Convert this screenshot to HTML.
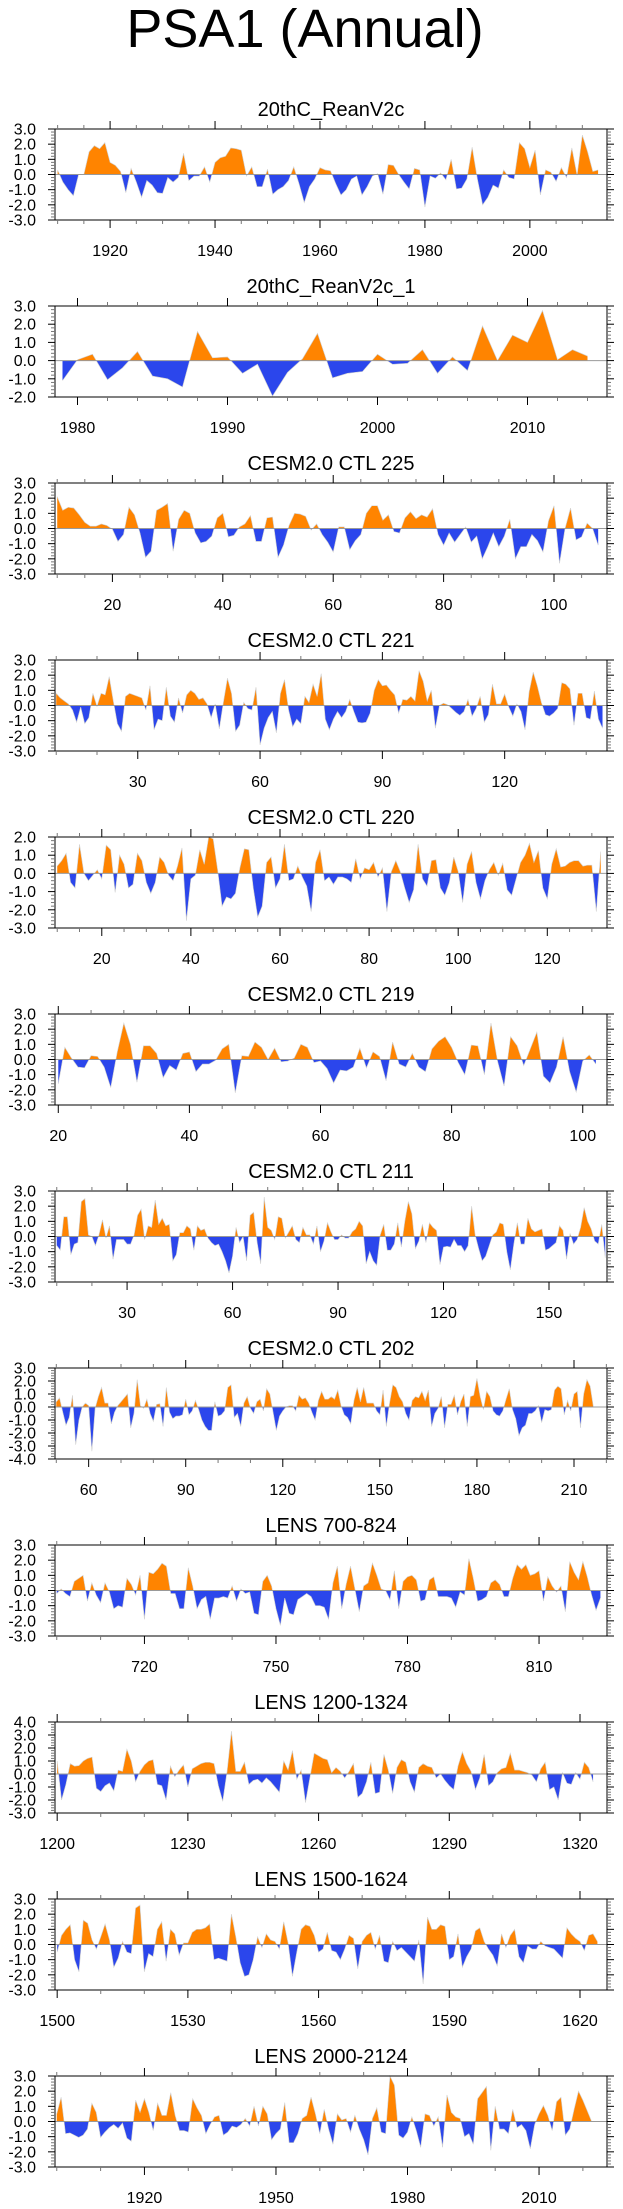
<!DOCTYPE html>
<html><head><meta charset="utf-8"><title>PSA1 (Annual)</title>
<style>
html,body{margin:0;padding:0;background:#fff;}
svg{display:block;font-family:"Liberation Sans",Arial,sans-serif;}
</style></head>
<body>
<svg id="chart" xmlns="http://www.w3.org/2000/svg" width="623" height="2209" viewBox="0 0 623 2209">
<rect width="623" height="2209" fill="#fff"/>
<text x="305" y="47" font-size="54" text-anchor="middle" fill="#000">PSA1 (Annual)</text>
</svg>
<script>
const panelTitles = ["20thC_ReanV2c","20thC_ReanV2c_1","CESM2.0 CTL 225","CESM2.0 CTL 221","CESM2.0 CTL 220","CESM2.0 CTL 219","CESM2.0 CTL 211","CESM2.0 CTL 202","LENS 700-824","LENS 1200-1324","LENS 1500-1624","LENS 2000-2124"];
const panelXMin = [1909.5,1978.5,9.6,9.7,9.5,19.5,9.5,49.6,699.6,1199.5,1499.5,1899.6];
const panelXMax = [2014.7,2015.3,109.6,145.1,133.4,103.7,166.5,220.2,825.5,1326.2,1626.2,2025.5];
const panelYMin = [-3,-2,-3,-3,-3,-3,-3,-4,-3,-3,-3,-3];
const panelYMax = [3,3,3,3,2,3,3,3,3,4,3,3];
const panelMajorStep = [20,10,20,30,20,20,30,30,30,30,30,30];
const panelMinorStep = [5,2,5,10,5,5,10,10,10,10,10,10];
const panelStart = [1910,1979,10,10,10,20,10,50,700,1200,1500,1900];

const p1Values = [0.3,-0.5,-1.0,-1.4,0.0,0.0,1.5,1.9,1.7,2.1,0.8,0.6,0.2,-1.2,0.4,-0.5,-1.5,-0.4,-0.7,-1.2,-1.25,-0.2,-0.5,-0.2,1.4,-0.4,-0.1,-0.1,0.5,-0.5,0.8,1.1,1.2,1.75,1.7,1.6,-0.1,0.5,-0.8,-0.8,0.35,-1.3,-1.0,-0.8,-0.4,0.5,-0.6,-1.85,-0.8,-0.3,0.45,0.3,0.25,-0.6,-1.35,-1.0,-0.3,-0.1,-1.35,-0.8,-0.1,0.05,-1.3,0.65,0.6,0.0,-0.5,-0.95,0.4,0.3,-2.15,-0.1,-0.25,0.1,-0.35,1.0,-0.95,-0.9,-0.3,1.8,-0.3,-2.0,-1.5,-0.7,-0.9,0.3,-0.2,-0.3,2.1,1.7,0.45,1.6,-1.35,0.3,0.15,-0.45,0.45,-0.2,1.75,-0.05,2.6,1.5,0.2,0.3];
const p2Values = [-1.1,0.05,0.35,-1.05,-0.4,0.5,-0.85,-1.0,-1.45,1.6,0.15,0.2,-0.7,-0.2,-1.95,-0.65,0.1,1.5,-0.95,-0.7,-0.6,0.35,-0.2,-0.15,0.6,-0.7,0.2,-0.55,1.9,0.0,1.4,1.0,2.75,0.05,0.6,0.25];
const p3Values = [2.1,1.2,1.4,1.35,0.9,0.4,0.15,0.15,0.3,0.2,-0.05,-0.85,-0.4,1.4,0.9,-0.3,-1.9,-1.5,1.2,1.4,1.65,-1.5,0.6,1.2,1.0,-0.3,-0.95,-0.85,-0.5,0.7,1.0,-0.55,-0.45,0.1,0.3,0.85,-0.85,-0.85,0.7,0.75,-1.9,-1.1,0.2,1.0,0.95,0.8,-0.1,0.3,-0.4,-0.9,-1.55,0.1,0.1,-1.4,-0.8,-0.4,1.0,1.5,1.5,0.55,0.9,-0.2,-0.3,0.7,1.1,0.65,0.9,0.75,1.3,-0.4,-1.1,-0.3,-0.9,-0.4,0.1,-0.9,-0.5,-2.0,-1.2,-0.3,-1.2,-0.5,0.6,-2.0,-1.2,-1.2,-0.4,-0.8,-1.55,0.5,1.5,-2.3,0.0,1.35,-0.75,-0.55,0.35,0.0,-1.1];
const p4Values = [0.8,0.5,0.3,0.1,-0.3,-1.1,-0.1,-1.2,-0.8,0.8,-0.05,0.8,0.7,1.9,0.3,-1.2,-1.7,0.6,0.8,0.7,0.6,0.5,-0.3,1.3,-1.6,-0.9,-1.0,1.2,-0.7,-1.1,0.5,-0.5,0.7,1.0,0.8,0.4,0.5,0.1,-0.8,0.1,-1.55,0.2,1.8,0.8,-1.7,-1.3,0.2,-0.2,-0.3,1.2,-2.6,-1.5,-0.8,-0.4,-1.8,0.8,1.7,-0.3,-1.4,-0.9,-1.2,0.6,0.2,1.4,0.6,2.1,-0.9,-1.6,-0.9,-0.4,-0.8,-0.4,0.4,-0.4,-1.1,-1.15,-1.1,-0.5,1.0,1.7,1.3,1.35,1.0,0.7,-0.5,0.4,0.35,0.6,0.3,2.3,1.6,0.3,1.0,-1.5,0.0,0.15,0.05,-0.2,-0.45,-0.65,-0.4,0.4,-0.7,-0.2,0.6,-1.1,-0.6,1.4,0.1,0.1,0.75,-0.1,-0.7,0.1,-0.4,-1.6,0.9,2.2,1.3,0.2,-0.6,-0.7,-0.5,-0.2,1.5,1.4,1.1,-1.3,0.8,0.8,-0.8,-0.9,0.95,-0.9,-1.5];
const p5Values = [0.4,0.7,1.1,-0.5,-0.8,1.6,0.0,-0.4,-0.1,0.2,-0.3,1.55,1.3,-1.05,1.0,0.5,-0.8,-0.6,1.1,0.7,-0.5,-1.1,-0.5,0.9,0.6,-0.1,-0.4,0.4,1.4,-2.6,-0.3,-0.1,1.3,0.5,2.0,1.9,0.2,-1.8,-1.3,-1.4,-1.1,0.3,1.35,1.3,-0.8,-2.4,-1.8,0.6,0.9,-0.8,-0.3,1.6,-0.4,-0.3,0.4,-0.2,-0.7,-2.1,0.6,1.3,-0.4,-0.2,-0.6,-0.2,-0.2,-0.3,-0.5,0.8,-0.3,0.3,0.2,0.6,-0.2,0.3,-2.1,0.1,0.7,0.1,-0.8,-1.6,-0.9,1.6,-0.3,-0.7,0.7,0.75,-0.8,-1.2,-0.5,0.9,0.1,-1.6,0.5,1.2,-0.5,-1.4,-0.4,0.2,0.6,-0.1,0.55,-0.9,-1.2,-0.3,0.6,1.0,1.65,0.6,1.25,-0.8,-1.4,0.5,1.35,0.35,0.4,0.6,0.7,0.7,0.4,0.45,0.45,-2.1,1.2];
const p6Values = [-1.6,0.8,0.1,-0.5,-0.55,0.25,0.2,-0.5,-1.85,0.5,2.4,1.0,-1.5,0.9,0.9,0.4,-1.2,-0.4,-0.7,0.4,0.5,-0.8,-0.3,-0.3,-0.05,0.7,1.0,-2.2,0.25,0.2,1.15,0.8,0.0,0.75,-0.15,-0.1,0.1,1.0,0.8,-0.2,-0.1,-0.6,-1.55,-0.7,-0.75,-0.5,0.75,-0.55,0.5,0.2,-1.4,1.15,-0.3,-0.5,0.4,-0.5,-0.8,0.7,1.2,1.5,0.8,-0.2,-1.0,0.95,0.9,-1.0,2.4,-0.1,-1.75,1.5,0.9,-0.4,0.7,1.8,-1.1,-1.55,-0.5,1.5,-0.8,-2.15,-0.1,0.3,-0.3];
const p7Values = [-0.6,-0.9,1.3,1.3,-1.2,-0.5,-0.4,2.3,2.5,0.1,0.0,-0.6,0.1,1.1,-0.1,0.7,-1.5,-0.2,-0.2,-0.2,-0.5,-0.5,0.1,1.4,1.8,-0.2,0.7,0.6,2.4,0.8,1.2,0.7,0.8,-1.6,-1.2,0.25,0.25,0.7,0.5,-0.9,0.7,0.4,0.5,-0.1,-0.4,-0.6,-0.5,-1.0,-1.6,-2.4,-1.3,0.6,-0.4,0.0,-1.6,1.4,1.6,-0.4,-1.8,2.6,0.6,0.4,-0.2,1.3,1.2,-0.1,0.3,0.7,-0.2,-0.4,0.6,0.1,0.1,-0.5,0.7,-1.0,-0.3,0.9,0.3,-0.2,-0.2,0.1,-0.1,-0.1,0.3,0.5,1.0,0.7,-1.8,-1.0,-1.6,-1.9,0.1,0.8,-0.9,-0.9,-0.5,0.9,-0.7,1.0,2.3,1.5,-0.8,-0.3,0.8,-0.4,0.9,0.6,0.4,-1.85,-0.7,-0.65,-0.7,-0.2,-0.6,-0.6,-1.0,-0.6,2.0,0.1,-0.8,-1.6,-1.3,-0.6,0.1,0.3,0.9,0.8,-1.0,-2.2,-0.5,0.9,-0.5,-0.5,1.2,0.5,0.3,0.4,0.5,-0.9,-0.8,-0.6,-0.4,0.7,0.4,-1.5,0.2,-0.5,-0.2,0.6,1.9,1.0,0.5,-0.3,-0.5,0.8,-1.4];
const p8Values = [0.4,0.7,-0.4,-1.4,-0.8,0.9,-2.9,-1.0,0.0,0.3,0.1,-3.4,-0.1,0.8,1.5,0.3,0.3,-1.3,-0.4,0.1,0.4,0.7,1.0,-1.6,-0.5,2.1,0.1,-0.1,0.6,-0.5,-1.1,0.2,0.25,-1.5,1.5,-0.4,-0.9,-0.7,-0.7,-0.6,0.6,-0.6,-0.3,0.5,-0.2,-1.0,-1.5,-1.8,-1.8,0.4,-0.7,-0.6,-0.3,1.5,1.7,-0.8,-0.5,-1.5,0.3,0.8,-0.1,-0.5,0.4,0.6,-0.3,1.4,1.0,-0.4,-1.8,-0.7,-0.3,0.0,0.1,0.1,-0.3,0.9,0.6,0.7,0.3,-0.4,-1.0,0.5,1.2,0.6,0.6,0.8,0.6,1.3,0.1,-0.6,-0.8,-1.3,0.5,1.5,0.4,1.5,0.3,0.3,0.3,-0.3,-0.6,1.3,-1.5,0.3,1.7,1.5,0.8,0.4,-0.5,-1.0,0.5,0.8,0.7,1.2,0.5,1.3,-1.5,-0.5,-0.1,0.8,-1.6,0.2,0.2,0.9,-0.6,0.4,1.0,-1.5,0.8,0.9,2.2,0.8,-0.2,1.2,0.8,-0.3,-0.6,-0.7,-0.3,0.6,1.4,-0.2,-0.9,-2.2,-1.6,-1.4,-0.5,-0.5,-0.3,0.1,-1.2,-0.2,-0.3,-0.2,1.3,1.6,1.4,-0.6,0.5,-0.3,1.0,1.2,-1.6,1.0,2.1,1.6,0.0];
const p9Values = [-0.2,0.1,-0.2,-0.4,0.6,0.8,1.0,-0.7,0.5,-0.3,-0.8,0.5,-0.1,-1.2,-1.0,-1.1,0.8,0.4,-0.3,1.0,-1.9,1.2,1.1,1.4,1.8,1.6,-0.2,-0.2,-1.2,-1.2,1.5,0.3,-1.2,-0.6,-0.4,-1.9,-0.5,-0.5,-0.4,-0.5,0.3,-0.7,0.1,-0.2,-0.1,-1.5,-1.6,0.6,1.0,0.3,-1.2,-2.3,-0.5,-1.5,-1.6,-0.6,-0.4,-0.2,-0.4,-1.0,-1.0,-1.1,-1.9,0.5,1.6,-1.2,0.4,1.6,0.1,-1.4,0.3,0.5,1.8,1.0,0.1,0.0,-0.6,1.3,-1.2,0.6,0.9,1.0,0.7,-0.7,-0.6,0.7,0.9,-0.4,-0.4,-0.4,-0.5,-1.1,-0.1,-0.3,2.1,0.8,-0.7,-0.6,-0.4,0.5,0.7,0.4,-0.4,-0.4,0.8,1.7,1.4,1.7,1.0,1.1,1.3,-0.7,0.9,0.3,-0.1,0.3,-1.4,1.9,1.2,0.7,1.9,0.9,-0.3,-1.3,-0.5];
const p10Values = [1.0,-2.0,-0.8,0.8,0.6,0.65,1.0,1.2,1.3,-1.1,-1.35,-0.9,-0.7,-1.3,0.3,0.2,1.9,1.0,-0.6,0.2,0.7,1.0,1.1,-0.8,-0.9,-2.0,0.6,-0.2,0.3,0.7,-1.0,0.4,0.6,0.8,0.9,0.9,0.8,-0.9,-2.1,0.2,3.3,0.2,0.2,0.9,-0.8,-0.5,-0.4,-0.7,-0.3,-0.6,-1.0,-1.4,1.0,0.3,1.8,-0.4,0.3,-2.2,-0.3,1.6,1.4,1.2,1.1,0.1,0.5,0.2,-0.3,0.2,0.8,-1.8,-1.5,-0.6,0.9,-1.5,-1.4,1.5,0.3,-1.5,0.5,1.1,0.9,-0.6,-1.4,0.5,0.8,0.6,0.5,-0.3,0.0,-0.5,-0.9,-1.2,0.6,1.7,0.8,0.2,-1.2,-0.3,1.5,-0.9,-0.6,0.1,0.4,0.5,1.6,0.3,0.3,0.2,0.1,-0.1,-0.6,0.4,0.9,-1.2,-1.0,-2.0,0.1,-0.7,-0.8,0.1,-0.4,0.9,0.5,-0.6];
const p11Values = [-0.5,0.6,1.0,1.3,-1.0,-1.8,1.6,1.4,0.3,-0.3,0.5,1.35,0.3,-1.5,-0.9,0.2,-0.5,-0.6,2.4,2.6,-1.8,-0.6,-0.8,1.0,1.5,-1.1,1.0,0.7,-0.7,0.1,0.1,0.8,1.0,1.0,1.1,1.35,-1.0,-0.9,-1.0,-1.1,2.0,0.5,-1.2,-2.1,-2.0,-1.0,0.5,-0.2,0.7,0.3,0.2,-0.3,1.5,0.1,-2.1,-0.5,1.0,1.3,1.2,0.6,-0.5,-0.3,0.8,-0.4,-0.5,-1.0,-0.3,0.6,0.4,-1.6,0.2,0.6,0.8,-0.3,0.6,-1.1,-1.2,0.2,-0.4,-0.2,-0.5,-0.8,-1.1,0.3,-2.6,1.8,1.0,1.0,1.3,1.2,-1.0,-0.8,0.7,-1.5,-0.8,-0.3,0.9,1.1,0.2,-0.3,-0.7,-1.4,0.7,-0.2,0.6,1.0,-0.8,-1.2,-0.1,-0.3,-0.3,0.2,-0.1,-0.2,-0.3,-0.6,-0.9,1.1,0.7,0.4,0.2,-0.4,0.6,0.7,0.2];
const p12Values = [0.5,1.6,-0.8,-0.75,-0.9,-1.05,-0.9,-0.5,1.2,0.6,-1.05,-0.7,-0.4,-0.2,-0.45,-0.1,-1.1,-1.3,1.4,0.6,1.5,0.6,-0.6,1.2,0.4,0.4,1.9,0.4,-0.6,-0.6,-0.7,1.5,0.9,0.4,-0.8,-0.2,0.3,0.4,-0.9,-0.7,-0.3,-0.4,-0.2,0.2,-0.3,1.0,-0.3,1.0,0.5,-1.2,-0.8,-0.5,1.25,-1.4,-1.4,-0.8,0.2,0.4,1.6,0.5,-0.8,0.8,-0.5,-1.5,0.5,0.1,0.2,-0.7,0.4,-0.5,-1.2,-2.2,0.2,0.9,-0.7,-0.8,3.0,2.4,-0.9,-1.1,-0.7,0.3,-0.6,-1.7,0.5,0.4,-0.3,0.3,-1.7,1.75,0.6,0.3,0.2,-1.0,-0.8,-1.5,1.5,1.9,2.3,-1.9,1.0,-0.5,-0.5,-0.8,0.8,-0.4,-0.2,-0.6,-1.8,-0.2,0.5,1.05,0.4,-0.6,1.3,1.6,-0.9,-0.5,0.8,2.0,1.4,0.7,0.0];
const panelValues = [p1Values,p2Values,p3Values,p4Values,p5Values,p6Values,p7Values,p8Values,p9Values,p10Values,p11Values,p12Values];

const NS = "http://www.w3.org/2000/svg";
const svg = document.getElementById('chart');
const BOX_L = 55, BOX_R = 607, BOX_H = 91, TOP0 = 129, SPACING = 177;
function mk(tag, attrs, parent) {
  const e = document.createElementNS(NS, tag);
  for (const k in attrs) e.setAttribute(k, attrs[k]);
  (parent || svg).appendChild(e);
  return e;
}
const ORANGE = "#ff8400", BLUE = "#2b46ec";

for (let p = 0; p < panelTitles.length; p++) {
  const top = TOP0 + SPACING * p, bot = top + BOX_H;
  const xmin = panelXMin[p], xmax = panelXMax[p], ymin = panelYMin[p], ymax = panelYMax[p];
  const sx = v => BOX_L + (v - xmin) / (xmax - xmin) * (BOX_R - BOX_L);
  const sy = v => bot - (v - ymin) / (ymax - ymin) * BOX_H;
  const g = mk('g', {});
  
  

  const t = mk('text', {x: (BOX_L + BOX_R) / 2, y: top - 13, 'font-size': 20, 'text-anchor': 'middle', fill: '#000'}, g);
  t.textContent = panelTitles[p];
  
  

  const vals = panelValues[p], x0 = panelStart[p];
  const y0 = sy(0);
  let d = 'M' + sx(x0).toFixed(2) + ',' + y0.toFixed(2);
  let line = '';
  vals.forEach((v, i) => {
    const px = sx(x0 + i).toFixed(2), py = sy(v).toFixed(2);
    d += ' L' + px + ',' + py;
    line += (i ? ' L' : 'M') + px + ',' + py;
  });
  d += ' L' + sx(x0 + vals.length - 1).toFixed(2) + ',' + y0.toFixed(2) + ' Z';
  const cpA = mk('clipPath', {id: 'ca' + p}, g);
  mk('rect', {x: BOX_L, y: top, width: BOX_R - BOX_L, height: y0 - top}, cpA);
  const cpB = mk('clipPath', {id: 'cb' + p}, g);
  mk('rect', {x: BOX_L, y: y0, width: BOX_R - BOX_L, height: bot - y0}, cpB);
  const pos = mk('path', {d: d, fill: ORANGE, 'clip-path': 'url(#ca' + p + ')'}, g);
  
  
  const neg = mk('path', {d: d, fill: BLUE, 'clip-path': 'url(#cb' + p + ')'}, g);
  
  
  mk('path', {d: line, fill: 'none', stroke: '#d0d0d0', 'stroke-width': 0.6}, g);
  const zl = mk('line', {x1: BOX_L, x2: BOX_R, y1: y0, y2: y0, stroke: '#999', 'stroke-width': 1}, g);
  
  

  const box = mk('rect', {x: BOX_L, y: top, width: BOX_R - BOX_L, height: BOX_H, fill: 'none', stroke: '#000', 'stroke-width': 1}, g);
  
  

  for (let k = Math.round(ymin * 5); k <= Math.round(ymax * 5); k++) {
    const v = k / 5, yy = sy(v), major = (k % 5 === 0);
    const len = major ? 7 : 4;
    mk('line', {x1: BOX_L - len, x2: BOX_L, y1: yy, y2: yy, stroke: major ? '#000' : '#777', 'stroke-width': 1}, g);
    mk('line', {x1: BOX_R, x2: BOX_R + len, y1: yy, y2: yy, stroke: major ? '#000' : '#777', 'stroke-width': 1}, g);
    if (major) {
      const lb = mk('text', {x: 36, y: yy + 5.5, 'font-size': 16, 'text-anchor': 'end', fill: '#000'}, g);
      lb.textContent = v.toFixed(1);
      
      
    }
  }
  const mn = panelMinorStep[p], mj = panelMajorStep[p];
  for (let v = Math.ceil(xmin / mn) * mn; v <= xmax; v += mn) {
    const xx = sx(v), major = (v % mj === 0);
    const len = major ? 8 : 4;
    mk('line', {x1: xx, x2: xx, y1: bot, y2: bot + len, stroke: major ? '#000' : '#777', 'stroke-width': 1}, g);
    mk('line', {x1: xx, x2: xx, y1: top - len, y2: top, stroke: major ? '#000' : '#777', 'stroke-width': 1}, g);
    if (major) {
      const lb = mk('text', {x: xx, y: bot + 36, 'font-size': 16, 'text-anchor': 'middle', fill: '#000'}, g);
      lb.textContent = String(v);
      
      
    }
  }
}
</script>
</body></html>
